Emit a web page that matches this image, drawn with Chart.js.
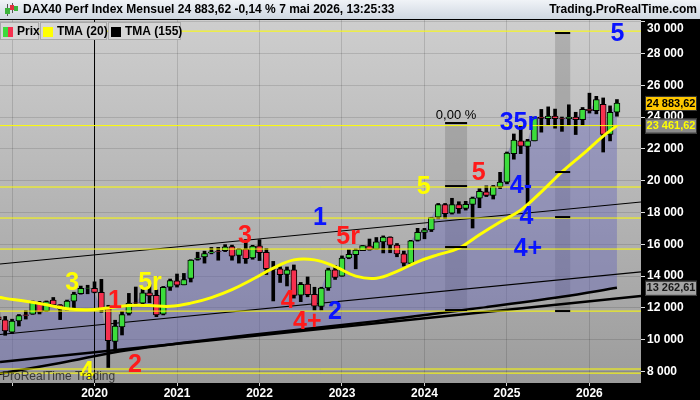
<!DOCTYPE html>
<html>
<head>
<meta charset="utf-8">
<script src="https://cdn.jsdelivr.net/npm/chart.js@4.4.1/dist/chart.umd.min.js"></script>
<style>
  html, body { margin: 0; padding: 0; background: #000; }
</style>
</head>
<body>
<canvas id="dax" width="700" height="400"></canvas>
<script>
// Monthly candles
const months = ['2018-11','2018-12',
  '2019-01','2019-02','2019-03','2019-04','2019-05','2019-06','2019-07','2019-08','2019-09','2019-10','2019-11','2019-12',
  '2020-01','2020-02','2020-03','2020-04','2020-05','2020-06','2020-07','2020-08','2020-09','2020-10','2020-11','2020-12',
  '2021-01','2021-02','2021-03','2021-04','2021-05','2021-06','2021-07','2021-08','2021-09','2021-10','2021-11','2021-12',
  '2022-01','2022-02','2022-03','2022-04','2022-05','2022-06','2022-07','2022-08','2022-09','2022-10','2022-11','2022-12',
  '2023-01','2023-02','2023-03','2023-04','2023-05','2023-06','2023-07','2023-08','2023-09','2023-10','2023-11','2023-12',
  '2024-01','2024-02','2024-03','2024-04','2024-05','2024-06','2024-07','2024-08','2024-09','2024-10','2024-11','2024-12',
  '2025-01','2025-02','2025-03','2025-04','2025-05','2025-06','2025-07','2025-08','2025-09','2025-10','2025-11','2025-12',
  '2026-01','2026-02','2026-03','2026-04','2026-05'];
const opens = [11447,11257,
  10477,11180,11559,11600,12340,11790,12486,12200,11890,12427,12900,13240,
  13233,12983,11960,9900,10800,11650,12325,12300,12950,12790,11600,13300,
  13700,13450,13850,15050,15200,15450,15550,15600,15850,15300,15700,15150,
  15900,15500,14450,14450,14100,14400,12800,13500,12850,12100,13250,14400,
  13990,15140,15350,15600,15900,15700,16150,16450,15950,15400,14800,16250,
  16750,16900,17700,18500,17950,18500,18250,18500,18900,19300,19080,19630,
  19900,21700,22500,22150,22500,24000,23900,24060,23900,23900,24000,23840,
  24490,24400,24800,22900,24300];
const highs = [11700,11464,
  11291,11587,11823,12436,12413,12438,12656,12210,12494,12988,13374,13425,
  13640,13795,12165,11226,11781,12913,13314,13161,13460,13130,13350,13815,
  14131,14169,15030,15502,15568,15803,15810,15980,15950,15724,16290,15940,
  16285,15736,14925,14580,14575,14700,13600,13948,13300,13300,14500,14675,
  15270,15659,15706,15922,16331,16427,16528,16470,16050,15575,16250,17003,
  17000,17698,18567,18567,18892,18675,18700,18970,19491,19675,19700,20523,
  21800,22935,23476,22600,24000,24479,24639,24500,24000,24770,24300,24600,
  25500,25300,25200,24700,25100];
const lows = [11009,10279,
  10386,10864,11299,11596,11620,11778,12081,11266,11860,11924,12865,12888,
  12948,11725,8256,9345,10299,11550,12210,12254,12326,11450,11560,13100,
  13310,13450,13630,15000,14817,15400,15000,15540,15000,14818,14800,15060,
  14980,14100,12439,13600,13381,12618,12391,12700,11863,11870,13100,13790,
  13990,15090,14458,15600,15630,15700,15456,15468,15216,14630,14800,16200,
  16345,16800,17600,17626,17900,17950,18150,17024,18300,19000,18846,19500,
  19800,21350,21700,18490,22500,23050,23500,23300,23100,23500,22900,23500,
  24250,24200,21800,22500,24050];
const closes = [11257,10559,
  11173,11516,11526,12344,11727,12399,12189,11939,12428,12867,13236,13249,
  12981,11890,9936,10862,11587,12311,12313,12945,12761,11556,13291,13719,
  13433,13786,15008,15136,15421,15531,15544,15835,15261,15688,15100,15885,
  15471,14461,14415,14098,14388,12784,13484,12835,12114,13253,14397,13924,
  15128,15365,15629,15922,15664,16148,16447,15947,15387,14810,16215,16752,
  16904,17678,18492,17932,18498,18235,18509,18907,19325,19078,19626,19909,
  21732,22551,22163,22497,23997,23910,24065,23902,23881,24000,23840,24490,
  24400,25100,22900,24300,24883.62];

// TMA (20) and TMA (155), read at a few months (0 = January 2020)
const tma20Month = [-14,-13,-10,-7,-4,-1,2,5,8,11,14,17,20,23,26,29,32,35,38,41,44,47,50,53,56,59,62,65,68,71,74,76];
const tma20Value = [12680,12600,12420,12200,11950,11880,12000,12150,12150,12100,12300,12650,13150,13800,14500,15020,15020,14600,14000,13870,14300,14900,15350,15750,16600,17400,18150,19300,20550,21650,22800,23461.62];
const tma155Month = [-14,-5,5,23,41,57,68,76];
const tma155Value = [7850,8540,9360,10320,11170,12050,12700,13262.61];

// Hand-drawn lines
const levelValues = [29400, 23461.62, 19600, 17650, 15700, 11800, 8160, 7900];
const trendFrom = [[-13.75, 14760], [-13.75, 10330], [-13.75, 8600]];
const trendTo = [[79.5, 18660], [79.5, 14260], [79.5, 12750]];
const verticalMonth = 0;

// Period boxes: month span and the marked levels
const boxFrom = [51, 67];
const boxTo = [54.2, 69.2];
const boxLevels = [[23623, 19662, 15827, 11866], [29282, 20543, 17713, 11803]];

// Wave counts written on the chart
const noteText  = ['3', '5r', '4', '1', '2', '3', '4', '4+', '1', '2', '5r', '5', '5', '35r', '4-', '4', '4+', '5'];
const noteMonth = [-3.26, 8.07, -1.1, 2.98, 5.89, 21.9, 28.1, 30.95, 32.8, 34.98, 36.9, 47.9, 55.9, 61.67, 62.04, 62.84, 63.05, 76.07];
const noteValue = [13628, 13628, 8031, 12495, 8472, 16582, 12495, 11175, 17713, 11772, 16519, 19662, 20543, 23686, 19725, 17745, 15764, 29282];
const noteColor = ['yellow','yellow','yellow','red','red','red','red','red','blue','blue','red','yellow','red','blue','blue','blue','blue','blue'];

// Axis ticks
const yearTicks = [-12, 0, 12, 24, 36, 48, 60, 72];
const yearLabels = ['', '2020', '2021', '2022', '2023', '2024', '2025', '2026'];
const priceTicks = [8000, 10000, 12000, 14000, 16000, 18000, 20000, 22000, 24000, 26000, 28000, 30000];

const palette = { yellow: '#ffff00', red: '#ff1a1a', blue: '#0a14ff' };
const FONT = '"Liberation Sans", Arial, sans-serif';

const monthIdx = months.map(s => {
    const [y, m] = s.split('-').map(Number);
    return (y - 2020) * 12 + (m - 1);
});

function fmtNum(v, dec) {
    const parts = v.toFixed(dec).split('.');
    const int = parts[0].replace(/\B(?=(\d{3})+(?!\d))/g, ' ');
    return dec ? int + ',' + parts[1] : int;
}

const datasets = [];
// zone between the price and the long average
datasets.push({
    type: 'line', data: monthIdx.map((m, i) => ({ x: m, y: closes[i] })),
    borderWidth: 0, borderColor: 'rgba(0,0,0,0)', pointRadius: 0,
    fill: { target: 1 }, backgroundColor: 'rgba(105,105,185,0.45)', order: 20
});
datasets.push({
    type: 'line', data: tma155Month.map((m, i) => ({ x: m, y: tma155Value[i] })),
    borderColor: '#000', borderWidth: 2.5, pointRadius: 0, tension: 0.35, fill: false, order: 8
});
trendFrom.forEach((p, i) => {
    datasets.push({
        type: 'line', data: [{ x: p[0], y: p[1] }, { x: trendTo[i][0], y: trendTo[i][1] }],
        borderColor: '#000', borderWidth: i === 2 ? 2.5 : 1.2, pointRadius: 0, fill: false, order: 9
    });
});
datasets.push({
    type: 'line', data: [{ x: verticalMonth, y: 5000 }, { x: verticalMonth, y: 32000 }],
    borderColor: '#000', borderWidth: 1, pointRadius: 0, fill: false, order: 7
});
// wicks then bodies
datasets.push({
    type: 'bar', data: monthIdx.map((m, i) => ({ x: m, y: [lows[i], highs[i]] })),
    backgroundColor: '#000', borderWidth: 0, barThickness: 3, grouped: false, order: 6
});
datasets.push({
    type: 'bar', data: monthIdx.map((m, i) => ({ x: m, y: [opens[i], closes[i]] })),
    backgroundColor: closes.map((c, i) => c >= opens[i] ? '#3cdc3c' : '#f5304f'),
    borderColor: '#000', borderWidth: 1, borderSkipped: false,
    barThickness: 6, grouped: false, order: 5
});
levelValues.forEach(v => {
    datasets.push({
        type: 'line', data: [{ x: -20, y: v }, { x: 90, y: v }],
        borderColor: '#ffff00', borderWidth: 1, pointRadius: 0, fill: false, order: 3
    });
});
datasets.push({
    type: 'line', data: tma20Month.map((m, i) => ({ x: m, y: tma20Value[i] })),
    borderColor: '#ffff00', borderWidth: 3, pointRadius: 0, tension: 0.4, fill: false, order: 2
});

function tag(ctx, y, text, bg, fg) {
    ctx.fillStyle = bg;
    ctx.fillRect(645, y - 7, 52, 15);
    ctx.strokeStyle = '#333';
    ctx.lineWidth = 1;
    ctx.strokeRect(645.5, y - 6.5, 51, 14);
    ctx.fillStyle = fg;
    ctx.font = 'bold 11px ' + FONT;
    ctx.textAlign = 'center';
    ctx.textBaseline = 'middle';
    ctx.fillText(text, 671, y + 0.5);
}

const prtPlugin = {
    id: 'prt',
    beforeDraw(chart) {
        const { ctx, chartArea: a } = chart;
        ctx.save();
        ctx.fillStyle = '#000';
        ctx.fillRect(0, 0, chart.width, chart.height);
        const g = ctx.createLinearGradient(0, a.top, 0, a.bottom);
        g.addColorStop(0, '#cecece');
        g.addColorStop(1, '#9c9c9c');
        ctx.fillStyle = g;
        ctx.fillRect(a.left, a.top, a.right - a.left, a.bottom - a.top);
        // title bar
        const t = ctx.createLinearGradient(0, 0, 0, a.top);
        t.addColorStop(0, '#f0f3f7');
        t.addColorStop(1, '#cdd6e0');
        ctx.fillStyle = t;
        ctx.fillRect(0, 0, chart.width, a.top - 1);
        // little candle icon
        ctx.fillStyle = '#555';
        ctx.fillRect(7, 4, 1, 12);
        ctx.fillRect(12, 3, 1, 10);
        ctx.fillStyle = '#3cb43c';
        ctx.fillRect(5, 8, 5, 6);
        ctx.fillRect(14, 6, 4, 5);
        ctx.fillStyle = '#e03040';
        ctx.fillRect(10, 5, 4, 5);
        ctx.fillStyle = '#000';
        ctx.font = 'bold 12px ' + FONT;
        ctx.textBaseline = 'middle';
        ctx.textAlign = 'left';
        ctx.fillText('DAX40 Perf Index Mensuel 24 883,62 -0,14 % 7 mai 2026, 13:25:33', 23, 10);
        ctx.textAlign = 'right';
        ctx.fillText('Trading.ProRealTime.com', 697, 10);
        ctx.restore();
    },
    beforeDatasetsDraw(chart) {
        const { ctx, chartArea: a, scales: { x, y } } = chart;
        ctx.save();
        ctx.beginPath();
        ctx.rect(a.left, a.top, a.right - a.left, a.bottom - a.top);
        ctx.clip();
        ctx.fillStyle = 'rgba(60,60,60,0.2)';
        boxFrom.forEach((m, i) => {
            const x0 = x.getPixelForValue(m), x1 = x.getPixelForValue(boxTo[i]);
            const lv = boxLevels[i];
            const y0 = y.getPixelForValue(lv[0]), y1 = y.getPixelForValue(lv[lv.length - 1]);
            ctx.fillRect(x0, y0, x1 - x0, y1 - y0);
        });
        ctx.restore();
    },
    afterDatasetsDraw(chart) {
        const { ctx, chartArea: a, scales: { x, y } } = chart;
        ctx.save();
        ctx.beginPath();
        ctx.rect(a.left, a.top, a.right - a.left, a.bottom - a.top);
        ctx.clip();
        // marks on the period boxes
        ctx.fillStyle = '#000';
        boxFrom.forEach((m, i) => {
            const x0 = x.getPixelForValue(m), x1 = x.getPixelForValue(boxTo[i]);
            boxLevels[i].forEach(v => ctx.fillRect(x0, y.getPixelForValue(v) - 1, x1 - x0, 2));
        });
        ctx.font = '13px ' + FONT;
        ctx.textAlign = 'center';
        ctx.textBaseline = 'alphabetic';
        ctx.fillText('0,00 %', (x.getPixelForValue(boxFrom[0]) + x.getPixelForValue(boxTo[0])) / 2,
            y.getPixelForValue(boxLevels[0][0]) - 4);
        // wave counts
        ctx.font = 'bold 25px ' + FONT;
        ctx.textAlign = 'center';
        ctx.textBaseline = 'middle';
        noteText.forEach((s, i) => {
            ctx.fillStyle = palette[noteColor[i]];
            ctx.fillText(s, x.getPixelForValue(noteMonth[i]), y.getPixelForValue(noteValue[i]) + 1);
        });
        // watermark
        ctx.fillStyle = 'rgba(40,40,40,0.85)';
        ctx.font = '12px ' + FONT;
        ctx.textAlign = 'left';
        ctx.fillText('ProRealTime Trading', 2, a.bottom - 6);
        // legend boxes
        const items = [['Prix', 0, 39], ['TMA (20)', 40, 107], ['TMA (155)', 108, 181]];
        ctx.font = 'bold 12px ' + FONT;
        items.forEach((it, i) => {
            ctx.fillStyle = '#d6d6d6';
            ctx.fillRect(it[1], 22, it[2] - it[1], 18);
            ctx.strokeStyle = '#a8a8a8';
            ctx.lineWidth = 1;
            ctx.strokeRect(it[1] + 0.5, 22.5, it[2] - it[1] - 1, 17);
            const sx = it[1] + 3;
            if (i === 0) {
                ctx.fillStyle = '#3cdc3c'; ctx.fillRect(sx, 27, 5, 10);
                ctx.fillStyle = '#f5304f'; ctx.fillRect(sx + 5, 27, 5, 10);
            } else {
                ctx.fillStyle = i === 1 ? '#ffff00' : '#000';
                ctx.fillRect(sx, 27, 10, 10);
            }
            ctx.fillStyle = '#000';
            ctx.fillText(it[0], sx + 14, 31.5);
        });
        ctx.restore();

        // price tags on the right axis
        ctx.save();
        ctx.fillStyle = '#fff';
        ctx.font = 'bold 12px ' + FONT;
        ctx.textAlign = 'left';
        ctx.textBaseline = 'middle';
        ctx.fillText(fmtNum(30000, 0), 647, y.getPixelForValue(30000) + 7);
        tag(ctx, y.getPixelForValue(closes[closes.length - 1]), fmtNum(closes[closes.length - 1], 2), '#ffc800', '#000');
        tag(ctx, y.getPixelForValue(tma20Value[tma20Value.length - 1]), fmtNum(tma20Value[tma20Value.length - 1], 2), '#8a8a8a', '#ffff00');
        tag(ctx, y.getPixelForValue(tma155Value[tma155Value.length - 1]), fmtNum(tma155Value[tma155Value.length - 1], 2), '#a4a4a4', '#1a1a1a');
        ctx.restore();
    }
};

new Chart(document.getElementById('dax'), {
    data: { datasets: datasets },
    options: {
        responsive: false,
        animation: false,
        events: [],
        layout: { padding: { top: 20, left: 0, right: 0, bottom: 0 } },
        plugins: { legend: { display: false }, tooltip: { enabled: false } },
        scales: {
            x: {
                type: 'linear', min: -13.75, max: 79.5, offset: false,
                afterFit: s => { s.height = 17; },
                afterBuildTicks: s => { s.ticks = yearTicks.map(v => ({ value: v })); },
                grid: { color: 'rgba(0,0,0,0.13)', tickColor: '#d0d0d0', tickLength: 3, offset: false },
                border: { display: false },
                ticks: {
                    autoSkip: false, maxRotation: 0, padding: 0,
                    color: '#fff', font: { family: FONT, size: 12, weight: 'bold' },
                    callback: (v, i) => yearLabels[i]
                }
            },
            y: {
                type: 'linear', position: 'right', min: 7280, max: 30100,
                afterFit: s => { s.width = 59; },
                afterBuildTicks: s => { s.ticks = priceTicks.map(v => ({ value: v })); },
                grid: { color: 'rgba(0,0,0,0.12)', tickColor: '#e0e0e0', tickLength: 4 },
                border: { display: false },
                ticks: {
                    autoSkip: false, padding: 2,
                    color: '#fff', font: { family: FONT, size: 12, weight: 'bold' },
                    // the top label is drawn lower by the plugin, as the reference pushes it inside
                    callback: v => v >= 30000 ? '' : fmtNum(v, 0)
                }
            }
        }
    },
    plugins: [prtPlugin]
});
</script>
</body>
</html>
